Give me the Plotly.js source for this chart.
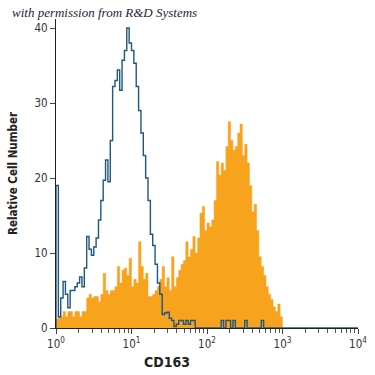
<!DOCTYPE html>
<html>
<head>
<meta charset="utf-8">
<script src="https://cdn.plot.ly/plotly-3.0.1.min.js"></script>
<style>html,body{margin:0;padding:0;background:#fff;}#chart{width:375px;height:375px;}</style>
</head>
<body>
<div id="chart"></div>
<script>
// Histogram channels: 32 channels per decade, starting at 10^0
const channelsPerDecade = 32;
const totalChannels = 128;

// Isotype control (blue outline), counts per channel
const isotypeCounts = [
  19, 1.5, 4, 6.2, 4.5, 2.7, 5, 5, 5.5, 6, 6.8, 5.5, 8, 12.2, 10.5, 9.7,
  10.8, 12, 14.4, 17, 19.7, 22.4, 19.5, 25, 32.2, 33, 34.4, 31.7, 35.7, 37, 40, 38,
  37, 35.3, 32.2, 29, 26, 23, 20, 17, 12.5, 11, 8.5, 6, 4.5, 1.8, 2, 2.1,
  1.3, 1, 0.2, 0.5, 1, 1, 0.5, 1, 0.5, 1, 1, 0, 0, 0, 0, 0,
  0, 0, 0, 0, 0, 0, 1, 0, 1, 1, 0, 1, 0, 0, 0, 0,
  1, 0, 0, 0, 0, 0, 0, 1, 0, 0, 0, 0, 0, 0, 0, 0
];

// CD163 antibody stained (orange filled), counts per channel
const cd163Counts = [
  1.2, 1.5, 1.5, 2.2, 1.5, 2.2, 2.2, 1.5, 2.2, 2.2, 1.5, 2.2, 2.2, 4, 4.5, 4,
  4.2, 4.2, 3.5, 4.5, 7.3, 5, 4.5, 5, 5, 5.5, 8.2, 6, 7.7, 8, 7, 9.3,
  5.5, 6.5, 6, 11.5, 8.2, 6.5, 7.3, 4.2, 4.2, 4.5, 5, 5.5, 6.5, 8.2, 5.5, 6.7,
  5, 9.5, 5.5, 6.7, 7.7, 8.5, 9, 11.5, 9.5, 10.5, 12.2, 10, 12, 15.3, 16.2, 13,
  14, 13.5, 14.4, 17, 22.2, 20.4, 22, 21, 24.2, 27.5, 25, 23.7, 24.2, 26, 27.2, 23,
  24.5, 22, 19, 15.5, 16.5, 13, 9.5, 8.2, 7, 5.5, 4.5, 3.8, 2.8, 2.2, 3.2, 1.5
];

const xTickVals = [1, 10, 100, 1000, 10000];
const xTickText = ['10<sup>0</sup>', '10<sup>1</sup>', '10<sup>2</sup>', '10<sup>3</sup>', '10<sup>4</sup>'];
const xMinorVals = [2,3,4,5,6,7,8,9,20,30,40,50,60,70,80,90,200,300,400,500,600,700,800,900,2000,3000,4000,5000,6000,7000,8000,9000];
const yTickVals = [0, 10, 20, 30, 40];

function edge(i) { return Math.pow(10, i / channelsPerDecade); }

function stepXY(counts, nChannels, leadZero) {
  const xs = [], ys = [];
  if (leadZero) { xs.push(edge(0)); ys.push(0); }
  for (let i = 0; i < nChannels; i++) {
    xs.push(edge(i));
    ys.push(i < counts.length ? counts[i] : 0);
  }
  xs.push(edge(nChannels));
  ys.push(0);
  return {x: xs, y: ys};
}

const orange = stepXY(cd163Counts, cd163Counts.length, true);
const blue = stepXY(isotypeCounts, totalChannels, true);

const traces = [
  {
    x: orange.x, y: orange.y, type: 'scatter', mode: 'lines',
    line: {shape: 'hv', color: '#F8A31E', width: 0.5},
    fill: 'tozeroy', fillcolor: '#F8A31E', hoverinfo: 'skip'
  },
  {
    x: blue.x, y: blue.y, type: 'scatter', mode: 'lines',
    line: {shape: 'hv', color: '#1F5780', width: 1.4}, hoverinfo: 'skip'
  }
];

const narrow = '"DejaVu Sans Condensed", "Liberation Sans Narrow", sans-serif';
const tickFont = {family: narrow, size: 11.5, color: '#333'};
const layout = {
  width: 375, height: 375,
  margin: {l: 56, r: 17, t: 19, b: 47},
  paper_bgcolor: '#fff', plot_bgcolor: '#fff',
  showlegend: false,
  xaxis: {
    type: 'log', range: [0, 4],
    tickvals: xTickVals, ticktext: xTickText,
    ticks: 'outside', ticklen: 5, tickwidth: 1, tickcolor: '#444',
    minor: {tickvals: xMinorVals, ticks: 'outside', ticklen: 4, tickwidth: 1, tickcolor: '#555', showgrid: false},
    showgrid: false, zeroline: false,
    showline: true, linecolor: '#222', linewidth: 1,
    tickfont: tickFont
  },
  yaxis: {
    range: [0, 41.2],
    tickvals: yTickVals,
    ticks: 'outside', ticklen: 5, tickwidth: 1, tickcolor: '#444',
    showgrid: false, zeroline: false,
    showline: true, linecolor: '#222', linewidth: 1,
    tickfont: tickFont,
    title: {text: 'Relative Cell Number', standoff: 14, font: {family: narrow, size: 11.5, color: '#222', weight: 'bold'}}
  },
  annotations: [
    {
      text: '<i>with permission from R&amp;D Systems</i>',
      xref: 'paper', yref: 'paper', x: -0.152, y: 1.02,
      xanchor: 'left', yanchor: 'middle', showarrow: false,
      font: {family: '"Liberation Serif", "DejaVu Serif", serif', size: 13, color: '#1c2340'}
    },
    {
      text: '<b>CD163</b>',
      xref: 'paper', yref: 'paper', x: 0.3675, y: -0.11,
      xanchor: 'center', yanchor: 'middle', showarrow: false,
      font: {family: narrow, size: 14, color: '#222'}
    }
  ]
};

Plotly.newPlot('chart', traces, layout, {staticPlot: true, displayModeBar: false});
</script>
</body>
</html>
